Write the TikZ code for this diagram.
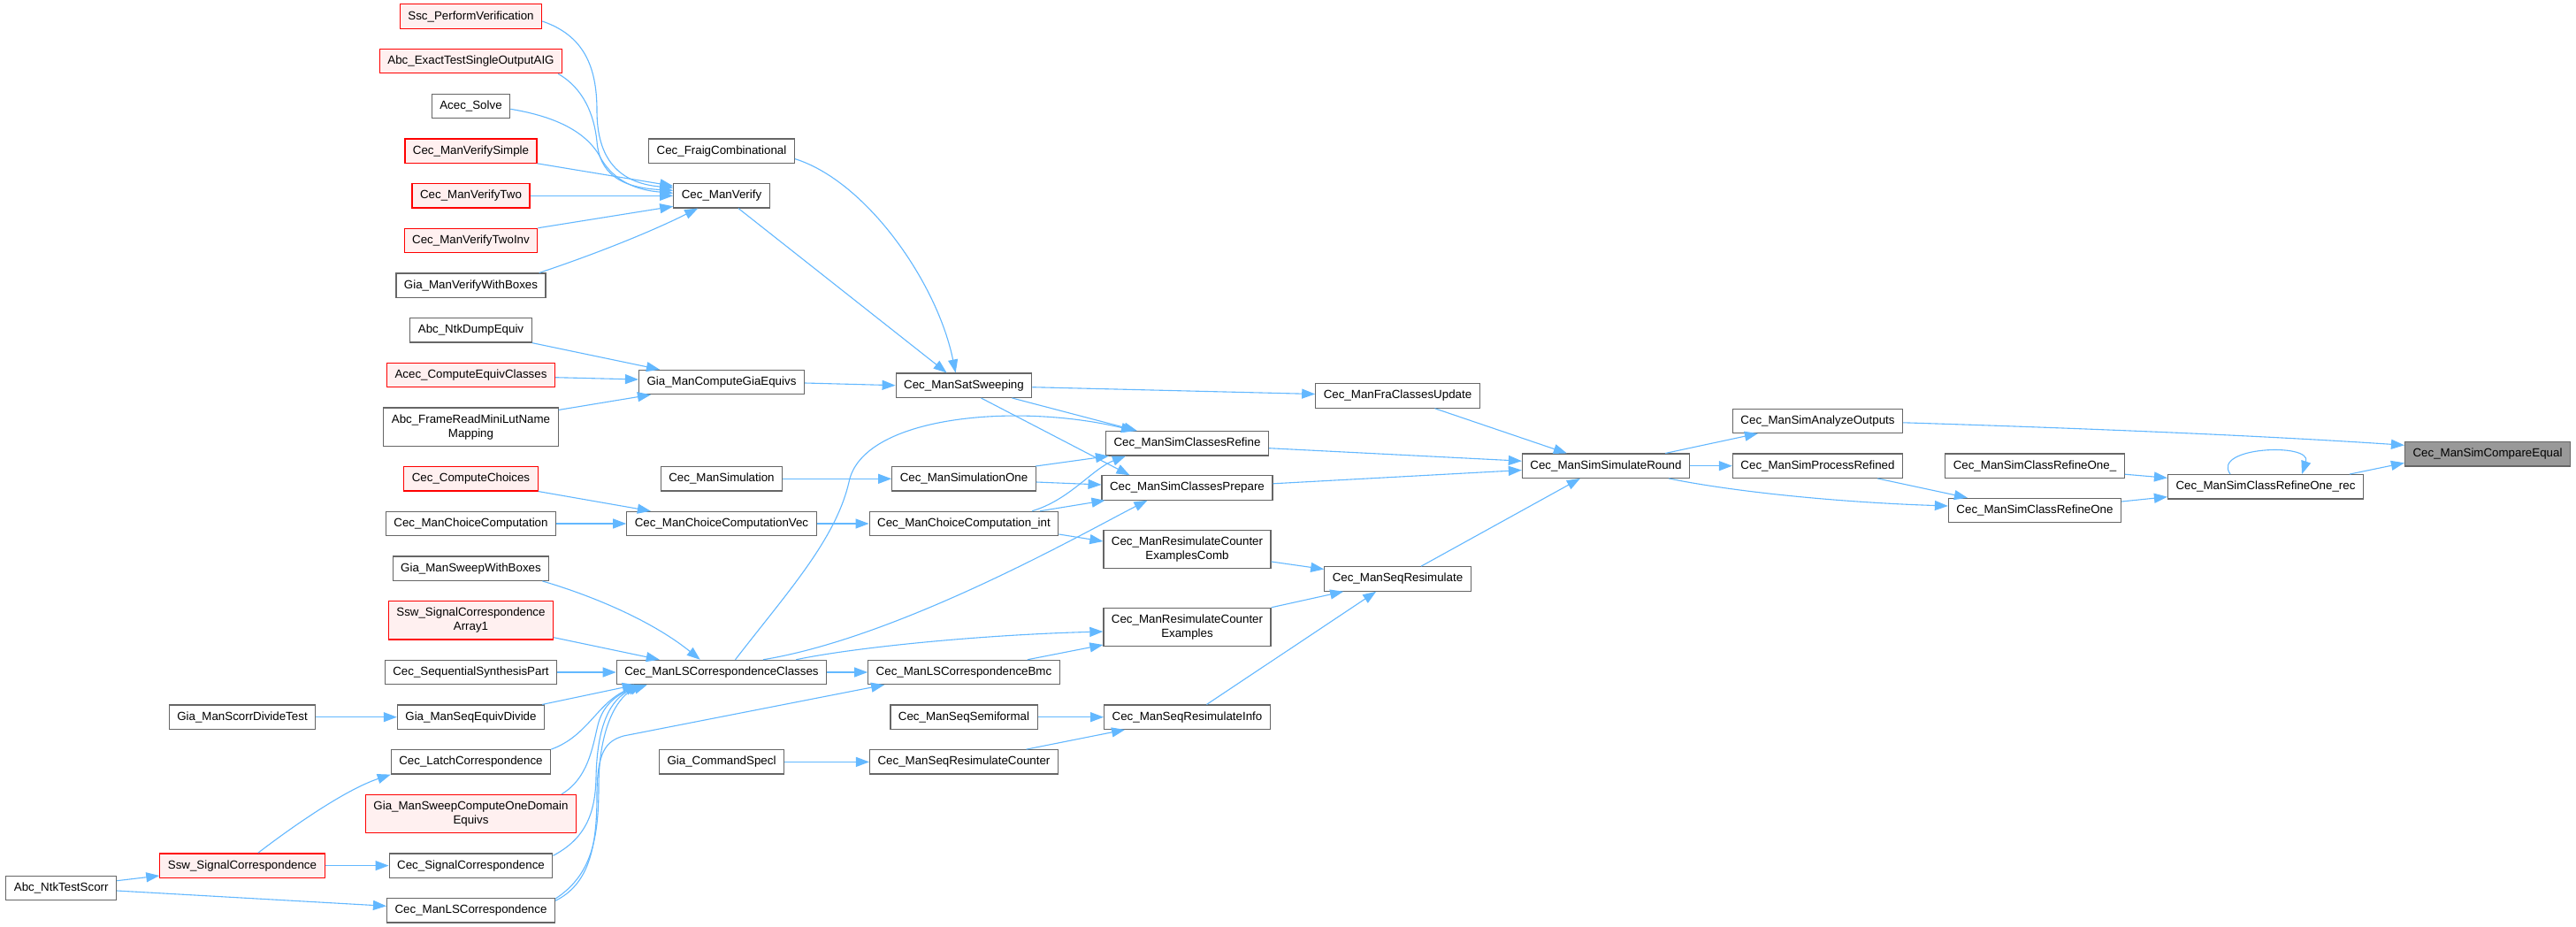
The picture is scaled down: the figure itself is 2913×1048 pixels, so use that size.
\documentclass[tikz,border=0pt]{standalone}
\usepackage{fontspec}
\setmainfont{Liberation Sans}
\usetikzlibrary{arrows.meta,calc}
\definecolor{edgec}{HTML}{63B8FF}
\definecolor{nodeborder}{HTML}{666666}
\definecolor{redfill}{HTML}{FFF0F0}
\definecolor{redline}{HTML}{FF0000}
\definecolor{rootfill}{HTML}{999999}
\tikzset{
  box/.style={draw=nodeborder, fill=white, line width=1.2pt, inner xsep=9pt, inner ysep=0pt,
    minimum height=27.3pt, font=\fontsize{13.33}{16}\selectfont, align=center, text=black},
  redbox/.style={box, draw=redline, fill=redfill},
  rootbox/.style={box, fill=rootfill},
  two/.style={minimum height=43.3pt},
  edge/.style={draw=edgec, line width=1.1pt, -{Triangle[length=15pt,width=11pt]}, fill=none},
}
\begin{document}
\begin{tikzpicture}[x=1pt,y=-1pt]
\fill[white] (0,0) rectangle (2913,1048);
\useasboundingbox (0,0) rectangle (2913,1048);
% column -1 and 0
\node[box] (ntktest) at (69.2,1004) {Abc\_NtkTestScorr};
\node[box] (scorrdiv) at (274,810.7) {Gia\_ManScorrDivideTest};
\node[redbox] (sswsig) at (274,978.6) {Ssw\_SignalCorrespondence};
% column 1
\node[redbox] (ssc) at (532.5,18.5) {Ssc\_PerformVerification};
\node[redbox] (abcexact) at (532.5,69.2) {Abc\_ExactTestSingleOutputAIG};
\node[box] (acecsolve) at (532.5,119.9) {Acec\_Solve};
\node[redbox] (versimple) at (532.5,170.6) {Cec\_ManVerifySimple};
\node[redbox] (vertwo) at (532.5,221.3) {Cec\_ManVerifyTwo};
\node[redbox] (vertwoinv) at (532.5,272) {Cec\_ManVerifyTwoInv};
\node[box] (giaverwb) at (532.5,322.7) {Gia\_ManVerifyWithBoxes};
\node[box] (dumpequiv) at (532.5,373.4) {Abc\_NtkDumpEquiv};
\node[redbox] (acecequiv) at (532.5,424.1) {Acec\_ComputeEquivClasses};
\node[box,two] (framelut) at (532.5,482.7) {Abc\_FrameReadMiniLutName\\Mapping};
\node[redbox] (compchoices) at (532.5,541.3) {Cec\_ComputeChoices};
\node[box] (choicecomp) at (532.5,592) {Cec\_ManChoiceComputation};
\node[box] (sweepwb) at (532.5,642.7) {Gia\_ManSweepWithBoxes};
\node[redbox,two] (sswarray) at (532.5,701.3) {Ssw\_SignalCorrespondence\\Array1};
\node[box] (seqsynth) at (532.5,760) {Cec\_SequentialSynthesisPart};
\node[box] (seqequiv) at (532.5,810.7) {Gia\_ManSeqEquivDivide};
\node[box] (latchcorr) at (532.5,861.4) {Cec\_LatchCorrespondence};
\node[redbox,two] (sweepone) at (532.5,920) {Gia\_ManSweepComputeOneDomain\\Equivs};
\node[box] (sigcorr) at (532.5,978.6) {Cec\_SignalCorrespondence};
\node[box] (lscorr) at (532.5,1029.3) {Cec\_ManLSCorrespondence};
% column 2
\node[box] (fraig) at (816,170.6) {Cec\_FraigCombinational};
\node[box] (manverify) at (816,221.3) {Cec\_ManVerify};
\node[box] (giaequivs) at (816,432) {Gia\_ManComputeGiaEquivs};
\node[box] (mansim) at (816,541.3) {Cec\_ManSimulation};
\node[box] (choicevec) at (816,592) {Cec\_ManChoiceComputationVec};
\node[box] (lscc) at (816,760) {Cec\_ManLSCorrespondenceClasses};
\node[box] (cmdspecl) at (816,861.4) {Gia\_CommandSpecl};
% column 3
\node[box] (satsweep) at (1090,435.7) {Cec\_ManSatSweeping};
\node[box] (simone) at (1090,541.3) {Cec\_ManSimulationOne};
\node[box] (choiceint) at (1090,592) {Cec\_ManChoiceComputation\_int};
\node[box] (lsbmc) at (1090,760) {Cec\_ManLSCorrespondenceBmc};
\node[box] (semiformal) at (1090,810.7) {Cec\_ManSeqSemiformal};
\node[box] (resimcnt) at (1090,861.4) {Cec\_ManSeqResimulateCounter};
% column 4
\node[box] (simrefine) at (1342.5,501.3) {Cec\_ManSimClassesRefine};
\node[box] (simprepare) at (1342.5,551.5) {Cec\_ManSimClassesPrepare};
\node[box,two] (rescomb) at (1342.5,621) {Cec\_ManResimulateCounter\\ExamplesComb};
\node[box,two] (resex) at (1342.5,709) {Cec\_ManResimulateCounter\\Examples};
\node[box] (resinfo) at (1342.5,810.7) {Cec\_ManSeqResimulateInfo};
% column 5
\node[box] (fraupdate) at (1580.5,447.5) {Cec\_ManFraClassesUpdate};
\node[box] (seqresim) at (1580.5,654.5) {Cec\_ManSeqResimulate};
% column 6
\node[box] (simround) at (1816,526.7) {Cec\_ManSimSimulateRound};
% column 7
\node[box] (analyze) at (2055.5,475.8) {Cec\_ManSimAnalyzeOutputs};
\node[box] (procref) at (2055.5,526.7) {Cec\_ManSimProcessRefined};
% column 8
\node[box] (refineoneu) at (2301,526.7) {Cec\_ManSimClassRefineOne\_};
\node[box] (refineone) at (2301,577) {Cec\_ManSimClassRefineOne};
% column 9, 10
\node[box] (rec) at (2562,550.3) {Cec\_ManSimClassRefineOne\_rec};
\node[rootbox] (cmpeq) at (2813,513.3) {Cec\_ManSimCompareEqual};

% edges into Cec_ManVerify
\draw[edge] ($(ssc.east)+(0,5.5)$) .. controls (660,40) and (675,75) .. (675,125) .. controls (675,180) and (700,207) .. ($(manverify.west)+(0,-9)$);
\draw[edge] ($(abcexact.south east)+(-5,0)$) .. controls (660,100) and (672,130) .. (675,160) .. controls (678,195) and (700,212) .. ($(manverify.west)+(0,-6)$);
\draw[edge] ($(acecsolve.east)+(0,3.4)$) .. controls (630,132) and (665,150) .. (680,180) .. controls (695,205) and (720,215) .. ($(manverify.west)+(0,-3)$);
\draw[edge] (versimple.south east) -- ($(manverify.west)+(0,-11)$);
\draw[edge] (vertwo.east) -- (manverify.west);
\draw[edge] (vertwoinv.north east) -- ($(manverify.west)+(0,12)$);
\draw[edge] ($(giaverwb.north east)+(-8,0)$) .. controls (665,290) and (730,265) .. ($(manverify.south west)+(28,0)$);
% edges into Gia_ManComputeGiaEquivs
\draw[edge] (dumpequiv.south east) -- ($(giaequivs.north west)+(24,0)$);
\draw[edge] ($(acecequiv.east)+(0,2.6)$) -- ($(giaequivs.west)+(0,-3)$);
\draw[edge] ($(framelut.north east)+(0,3)$) -- ($(giaequivs.south west)+(14,0)$);
% into Cec_ManSatSweeping
\draw[edge] ($(fraig.east)+(0,9)$) .. controls (980,205) and (1060,320) .. ($(satsweep.north west)+(68,0)$);
\draw[edge] ($(manverify.south)+(19,0)$) -- ($(satsweep.north west)+(58,0)$);
\draw[edge] ($(giaequivs.east)+(0,1)$) -- (satsweep.west);
% from Cec_ManSatSweeping
\draw[edge] ($(satsweep.east)+(0,2)$) -- ($(fraupdate.west)+(0,-2)$);
\draw[edge] ($(satsweep.south east)+(-23,0)$) -- ($(simrefine.north west)+(36,0)$);
\draw[edge] ($(satsweep.south)+(19.4,0)$) -- ($(simprepare.north west)+(32,0)$);
% into Cec_ManSimSimulateRound
\draw[edge] ($(fraupdate.south)+(42,0)$) -- ($(simround.north west)+(51,0)$);
\draw[edge] ($(simrefine.east)+(0,5.4)$) -- ($(simround.west)+(0,-5.5)$);
\draw[edge] ($(simprepare.east)+(0,-4.7)$) -- ($(simround.west)+(0,4.8)$);
% simulation
\draw[edge] (mansim.east) -- (simone.west);
\draw[edge] ($(simone.north east)+(-1,0)$) -- ($(simrefine.south west)+(4,0)$);
\draw[edge] ($(simone.east)+(0,3.7)$) -- ($(simprepare.west)+(0,-3.5)$);
% choices
\draw[edge] (compchoices.south east) -- ($(choicevec.north west)+(27.6,0)$);
\draw[edge] (choicecomp.east) -- (choicevec.west);
\draw[edge] (choicevec.east) -- (choiceint.west);
\draw[edge] ($(choiceint.north)+(77,0)$) .. controls (1210,565) and (1235,530) .. ($(simrefine.south west)+(23,0)$);
\draw[edge] ($(choiceint.north)+(86,0)$) -- ($(simprepare.south west)+(4,0)$);
\draw[edge] ($(choiceint.east)+(0,12)$) -- ($(rescomb.west)+(0,-9)$);
% from Cec_ManLSCorrespondenceClasses
\draw[edge] ($(lscc.north)+(15.5,0)$) .. controls (890,670) and (945,610) .. (960,545) .. controls (975,470) and (1150,455) .. ($(simrefine.north west)+(33,0)$);
\draw[edge] ($(lscc.north)+(47,0)$) .. controls (1020,720) and (1230,600) .. ($(simprepare.south west)+(52,0)$);
\draw[edge] (lscc.east) -- (lsbmc.west);
\draw[edge] ($(lscc.north east)+(-35,0)$) .. controls (960,733) and (1100,718) .. ($(resex.west)+(0,5)$);
\draw[edge] ($(lsbmc.north east)+(-37,0)$) -- ($(resex.west)+(0,20)$);
% into Cec_ManSeqResimulate
\draw[edge] ($(rescomb.east)+(0,14)$) -- ($(seqresim.west)+(0,-11)$);
\draw[edge] (resex.north east) -- ($(seqresim.south west)+(22,0)$);
\draw[edge] ($(resinfo.north)+(22,0)$) -- ($(seqresim.south west)+(59,0)$);
\draw[edge] ($(seqresim.north)+(26.4,0)$) -- ($(simround.south west)+(66,0)$);
\draw[edge] (semiformal.east) -- (resinfo.west);
\draw[edge] ($(resimcnt.north)+(70.5,0)$) -- ($(resinfo.south west)+(24,0)$);
\draw[edge] (cmdspecl.east) -- (resimcnt.west);
% into Cec_ManLSCorrespondenceClasses
\draw[edge] ($(sweepwb.south east)+(-8,0)$) .. controls (665,672) and (735,700) .. ($(lscc.north west)+(95,0)$);
\draw[edge] ($(sswarray.east)+(0,19.4)$) -- ($(lscc.north west)+(49,0)$);
\draw[edge] (seqsynth.east) -- (lscc.west);
\draw[edge] ($(seqequiv.north east)+(-3,0)$) -- ($(lscc.south west)+(22,0)$);
\draw[edge] (latchcorr.north east) .. controls (665,832) and (675,795) .. ($(lscc.south west)+(25,0)$);
\draw[edge] ($(sweepone.north east)+(-17,0)$) .. controls (665,880) and (670,845) .. (676,820) .. controls (682,795) and (700,785) .. ($(lscc.south west)+(28,0)$);
\draw[edge] ($(sigcorr.north east)+(0,3)$) .. controls (662,948) and (673,920) .. (674,880) .. controls (675,820) and (690,790) .. ($(lscc.south west)+(30,0)$);
\draw[edge] ($(lscorr.north east)+(0,1)$) .. controls (668,990) and (677,950) .. (677,890) .. controls (677,820) and (700,785) .. ($(lscc.south west)+(35,0)$);
\draw[edge] ($(lscorr.east)+(0,-11)$) .. controls (665,1000) and (675,960) .. (675,900) .. controls (675,850) and (685,838) .. (705,832) -- ($(lsbmc.south west)+(19,0)$);
% left part
\draw[edge] (scorrdiv.east) -- (seqequiv.west);
\draw[edge] ($(sswsig.north)+(17.7,0)$) .. controls (330,935) and (390,893) .. (latchcorr.south west);
\draw[edge] (sswsig.east) -- (sigcorr.west);
\draw[edge] ($(ntktest.east)+(0,-8.3)$) -- ($(sswsig.west)+(0,11.4)$);
\draw[edge] ($(ntktest.east)+(0,3)$) -- ($(lscorr.west)+(0,-5)$);
% right part
\draw[edge] ($(simround.north east)+(-28,0)$) -- ($(analyze.south west)+(29,0)$);
\draw[edge] (simround.east) -- (procref.west);
\draw[edge] ($(simround.south east)+(-24,0)$) .. controls (1960,556) and (2080,568) .. ($(refineone.west)+(0,-5)$);
\draw[edge] ($(procref.south east)+(-29,0)$) -- ($(refineone.north west)+(22,0)$);
\draw[edge] ($(refineoneu.east)+(0,9.5)$) -- ($(rec.west)+(0,-10)$);
\draw[edge] ($(refineone.east)+(0,-10)$) -- ($(rec.west)+(0,11.4)$);
\draw[edge] ($(rec.north)+(-40,0)$) .. controls (2500,505) and (2615,500) .. ($(rec.north)+(41,0)$);
\draw[edge] ($(rec.north east)+(-16,0)$) -- ($(cmpeq.west)+(0,10)$);
\draw[edge] ($(analyze.east)+(0,2)$) .. controls (2350,484) and (2550,492) .. ($(cmpeq.west)+(0,-10)$);
\end{tikzpicture}
\end{document}
